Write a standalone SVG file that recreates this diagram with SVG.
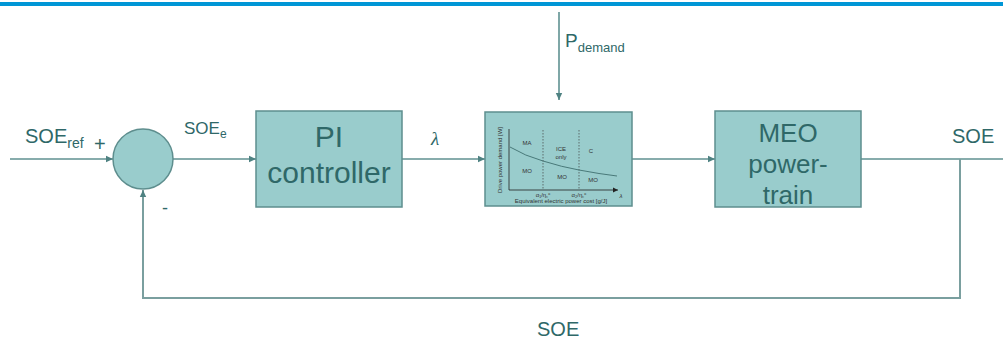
<svg xmlns="http://www.w3.org/2000/svg" width="1003" height="338" viewBox="0 0 1003 338">
<defs>
<marker id="arr" markerWidth="8" markerHeight="8" refX="7" refY="4" orient="auto" markerUnits="userSpaceOnUse">
<path d="M0,0.8 L7,4 L0,7.2 Z" fill="#4F8282"/>
</marker>
<marker id="arrs" markerWidth="6" markerHeight="6" refX="5" refY="3" orient="auto" markerUnits="userSpaceOnUse">
<path d="M0,0.5 L5,3 L0,5.5 Z" fill="#222"/>
</marker>
</defs>
<style>
.blk{fill:#99CCCC;stroke:#5E8E8E;stroke-width:1.5}
.ln{fill:none;stroke:#5F9191;stroke-width:1.6}
.fb{fill:none;stroke:#7A9F9F;stroke-width:2}
.t{font-family:"Liberation Sans",Arial,sans-serif;fill:#2F6868}
.bt{font-family:"Liberation Sans",Arial,sans-serif;fill:#2F6868;font-size:30px;text-anchor:middle}
.ct{font-family:"Liberation Sans",Arial,sans-serif;fill:#333;font-size:6px}
</style>
<rect x="0" y="2" width="1003" height="4" fill="#0096D6"/>
<g id="connectors">
<line class="ln" x1="10" y1="159" x2="113" y2="159" marker-end="url(#arr)"/>
<line class="ln" x1="173" y1="159" x2="256" y2="159" marker-end="url(#arr)"/>
<line class="ln" x1="402" y1="159" x2="485" y2="159" marker-end="url(#arr)"/>
<line class="ln" x1="632" y1="159" x2="715" y2="159" marker-end="url(#arr)"/>
<line class="ln" x1="861" y1="159" x2="1003" y2="159"/>
<line class="ln" x1="559" y1="12" x2="559" y2="100" marker-end="url(#arr)"/>
<polyline class="fb" points="960,159 960,298 143,298 143,190" marker-end="url(#arr)"/>
</g>
<g id="sum">
<circle cx="143" cy="159" r="30" fill="#99CCCC" stroke="#5E8E8E" stroke-width="1.5"/>
</g>
<g id="pi">
<rect class="blk" x="256" y="111" width="146" height="96"/>
<text class="bt" x="329" y="147">PI</text>
<text class="bt" x="329" y="183">controller</text>
</g>
<g id="chart">
<rect class="blk" x="485" y="112" width="147" height="94"/>
<line x1="509" y1="129" x2="509" y2="190" stroke="#222" stroke-width="0.8"/>
<line x1="509" y1="190" x2="618" y2="190" stroke="#222" stroke-width="0.8" marker-end="url(#arrs)"/>
<line x1="543" y1="130" x2="543" y2="190" stroke="#444" stroke-width="0.7" stroke-dasharray="1.5,1.5"/>
<line x1="579" y1="130" x2="579" y2="190" stroke="#444" stroke-width="0.7" stroke-dasharray="1.5,1.5"/>
<path d="M510,147 Q525,156 543,161 Q562,167 579,170 Q600,174 617,176" fill="none" stroke="#3F6F6F" stroke-width="0.9"/>
<text class="ct" x="527" y="145" text-anchor="middle">MA</text>
<text class="ct" x="527" y="173" text-anchor="middle">MO</text>
<text class="ct" x="561" y="151" text-anchor="middle">ICE</text>
<text class="ct" x="561" y="159" text-anchor="middle">only</text>
<text class="ct" x="591" y="153" text-anchor="middle">C</text>
<text class="ct" x="562" y="179" text-anchor="middle">MO</text>
<text class="ct" x="593" y="182" text-anchor="middle">MO</text>
<text class="ct" x="543" y="197" text-anchor="middle" font-size="5">α₁/η꜀ᶜ</text>
<text class="ct" x="579" y="197" text-anchor="middle" font-size="5">α₂/η꜀ᶜ</text>
<text class="ct" x="621" y="198" text-anchor="middle" font-style="italic">λ</text>
<text class="ct" x="561" y="203" text-anchor="middle">Equivalent electric power cost [g/J]</text>
<text class="ct" x="0" y="0" text-anchor="middle" transform="translate(502,160) rotate(-90)">Drive power demand [W]</text>
</g>
<g id="meo">
<rect class="blk" x="715" y="111" width="146" height="96"/>
<text class="bt" x="788" y="142" font-size="26" style="font-size:26px">MEO</text>
<text class="bt" x="788" y="173" style="font-size:26px">power-</text>
<text class="bt" x="788" y="204" style="font-size:26px">train</text>
</g>
<g id="labels">
<text class="t" x="25" y="143" font-size="20">SOE<tspan font-size="14" dy="5">ref</tspan></text>
<text class="t" x="94" y="151" font-size="20">+</text>
<text class="t" x="184" y="134" font-size="17">SOE<tspan font-size="12" dy="4">e</tspan></text>
<text class="t" x="162" y="214" font-size="18">-</text>
<text x="435" y="145" font-family="Liberation Serif,serif" font-style="italic" font-size="19" fill="#2F6868" text-anchor="middle">λ</text>
<text class="t" x="565" y="47" font-size="19">P<tspan font-size="13" dy="5">demand</tspan></text>
<text class="t" x="952" y="143" font-size="20">SOE</text>
<text class="t" x="537" y="336" font-size="20">SOE</text>
</g>
</svg>
